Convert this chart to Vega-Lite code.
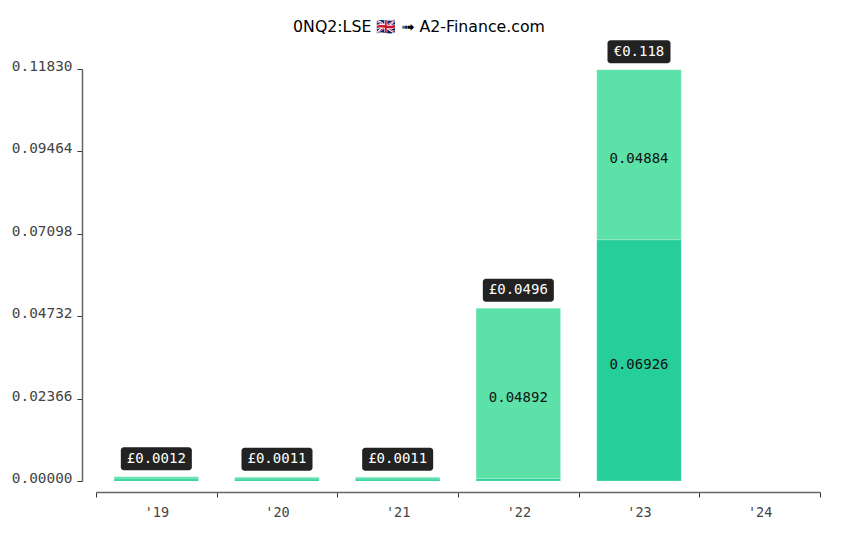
{"$schema":"https://vega.github.io/schema/vega-lite/v6.json","width":724,"height":412,"autosize":"none","padding":{"left":96,"top":69,"right":30,"bottom":54},"background":"white","title":{"text":"0NQ2:LSE 🇬🇧 ➟ A2-Finance.com","font":"DejaVu Sans","fontSize":15.75,"fontWeight":"normal","color":"#000000","anchor":"middle","dx":-39,"offset":4},"config":{"view":{"stroke":null}},"datasets":{"bars":[{"year":"'19","series":"a","rank":1,"value":0.0006},{"year":"'19","series":"b","rank":2,"value":0.0006},{"year":"'20","series":"a","rank":1,"value":0.00055},{"year":"'20","series":"b","rank":2,"value":0.00055},{"year":"'21","series":"a","rank":1,"value":0.00055},{"year":"'21","series":"b","rank":2,"value":0.00055},{"year":"'22","series":"a","rank":1,"value":0.00068},{"year":"'22","series":"b","rank":2,"value":0.04892},{"year":"'23","series":"a","rank":1,"value":0.06926},{"year":"'23","series":"b","rank":2,"value":0.04884}],"totals":[{"year":"'19","total":0.0012,"label":"£0.0012"},{"year":"'20","total":0.0011,"label":"£0.0011"},{"year":"'21","total":0.0011,"label":"£0.0011"},{"year":"'22","total":0.0496,"label":"£0.0496"},{"year":"'23","total":0.1181,"label":"€0.118"}]},"layer":[{"data":{"name":"bars"},"mark":{"type":"bar","width":{"band":0.7},"stroke":"#ffffff","strokeOpacity":0.4,"strokeWidth":0.5},"encoding":{"x":{"field":"year","type":"ordinal","scale":{"domain":["'19","'20","'21","'22","'23","'24"],"paddingInner":0,"paddingOuter":0},"axis":{"title":null,"orient":"bottom","offset":11,"tickBand":"extent","labelAngle":0,"labelFont":"DejaVu Sans Mono","labelFontSize":13.5,"labelColor":"#444444","labelPadding":8,"domainColor":"#666666","domainWidth":1.5,"tickColor":"#333333","tickSize":5}},"y":{"field":"value","type":"quantitative","stack":"zero","scale":{"domain":[0,0.1183],"nice":false},"axis":{"title":null,"orient":"left","offset":14,"values":[0,0.02366,0.04732,0.07098,0.09464,0.1183],"format":".5f","grid":false,"labelFont":"DejaVu Sans Mono","labelFontSize":14.4,"labelColor":"#444444","labelPadding":5,"labelOffset":-2.5,"domainColor":"#666666","domainWidth":1.5,"tickColor":"#333333","tickSize":5}},"color":{"field":"series","type":"nominal","legend":null,"scale":{"domain":["a","b"],"range":["#26cf9a","#5ce2a9"]}},"order":{"field":"rank"}}},{"data":{"name":"bars"},"transform":[{"stack":"value","groupby":["year"],"sort":[{"field":"rank"}],"as":["s0","s1"]},{"filter":"datum.value > 0.01"},{"fold":["s0","s1"],"as":["edge","pos"]},{"aggregate":[{"op":"mean","field":"pos","as":"mid"},{"op":"max","field":"value","as":"shown"}],"groupby":["year","series"]}],"mark":{"type":"text","font":"DejaVu Sans Mono","fontSize":14,"color":"#111111","baseline":"middle","dy":4.5},"encoding":{"x":{"field":"year","type":"ordinal"},"y":{"field":"mid","type":"quantitative"},"text":{"field":"shown","type":"quantitative","format":".5f"}}},{"data":{"name":"totals"},"transform":[{"filter":"datum.year !== \"'23\""}],"mark":{"type":"rect","width":71,"height":23,"yOffset":-18,"color":"#222222","cornerRadius":3},"encoding":{"x":{"field":"year","type":"ordinal"},"y":{"field":"total","type":"quantitative"}}},{"data":{"name":"totals"},"transform":[{"filter":"datum.year === \"'23\""}],"mark":{"type":"rect","width":63,"height":23,"yOffset":-18,"color":"#222222","cornerRadius":3},"encoding":{"x":{"field":"year","type":"ordinal"},"y":{"field":"total","type":"quantitative"}}},{"data":{"name":"totals"},"mark":{"type":"text","font":"DejaVu Sans Mono","fontSize":14,"color":"#ffffff","baseline":"middle","dy":-18},"encoding":{"x":{"field":"year","type":"ordinal"},"y":{"field":"total","type":"quantitative"},"text":{"field":"label"}}}]}
